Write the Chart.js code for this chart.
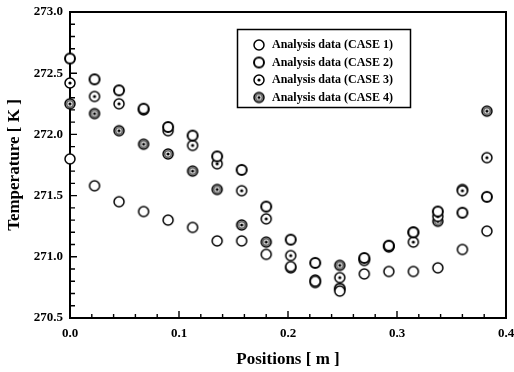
<!DOCTYPE html>
<html lang="en">
<head>
<meta charset="utf-8">
<title>Temperature vs position</title>
<script src="https://cdn.jsdelivr.net/npm/chart.js"></script>
<style>
  body{margin:0;background:#fff}
  canvas{display:block}
</style>
</head>
<body>
<canvas id="chart" width="514" height="372"></canvas>
<script>
const positions = [0, 0.0225, 0.045, 0.0675, 0.09, 0.1125, 0.135, 0.1575, 0.18, 0.2025, 0.225, 0.2475, 0.27, 0.2925, 0.315, 0.3375, 0.36, 0.3825];
const case1 = [271.80, 271.58, 271.45, 271.37, 271.30, 271.24, 271.13, 271.13, 271.02, 270.92, 270.80, 270.72, 270.86, 270.88, 270.88, 270.91, 271.06, 271.21];
const case2 = [272.62, 272.45, 272.36, 272.21, 272.06, 271.99, 271.82, 271.71, 271.41, 271.14, 270.95, 270.74, 270.99, 271.09, 271.20, 271.37, 271.36, 271.49];
const case3 = [272.42, 272.31, 272.25, 272.20, 272.03, 271.91, 271.76, 271.54, 271.31, 271.01, 270.81, 270.83, 270.97, 271.08, 271.12, 271.33, 271.54, 271.81];
const case4 = [272.25, 272.17, 272.03, 271.92, 271.84, 271.70, 271.55, 271.26, 271.12, 270.91, 270.79, 270.93, 270.98, 271.09, 271.20, 271.29, 271.55, 272.19];
const labels = ['Analysis data (CASE 1)', 'Analysis data (CASE 2)', 'Analysis data (CASE 3)', 'Analysis data (CASE 4)'];

const xMin = 0, xMax = 0.4, xStep = 0.1, xMinor = 0.02;
const yMin = 270.5, yMax = 273.0, yStep = 0.5, yMinor = 0.1;

const serif = '"Liberation Serif", "DejaVu Serif", serif';

// little canvases used as point styles
function marker(kind) {
  const c = document.createElement('canvas');
  c.width = c.height = 14;
  const g = c.getContext('2d');
  g.beginPath(); g.arc(7, 7, 5, 0, Math.PI * 2);
  g.fillStyle = '#fff'; g.fill();
  g.strokeStyle = '#000';
  g.lineWidth = kind === 2 ? 2 : 1.5;
  g.stroke();
  if (kind === 4) {
    g.beginPath(); g.arc(7, 7, 3.3, 0, Math.PI * 2);
    g.strokeStyle = '#666'; g.lineWidth = 1.6; g.stroke();
  }
  if (kind >= 3) {
    g.beginPath(); g.arc(7, 7, 1.6, 0, Math.PI * 2);
    g.fillStyle = '#000'; g.fill();
  }
  return c;
}
const markers = [marker(1), marker(2), marker(3), marker(4)];

const series = [case1, case2, case3, case4];
const datasets = series.map((vals, i) => ({
  label: labels[i],
  data: positions.map((p, j) => ({ x: p, y: vals[j] })),
  pointStyle: markers[i],
  pointRadius: 5,
  showLine: false,
  clip: false
}));

const frame = {
  id: 'frame',
  beforeDatasetsDraw(chart) {
    const { ctx, chartArea: a, scales: { x, y } } = chart;
    ctx.save();
    ctx.strokeStyle = '#000';
    ctx.lineWidth = 2;
    ctx.strokeRect(a.left, a.top, a.right - a.left, a.bottom - a.top);
    ctx.lineWidth = 1.4;
    ctx.beginPath();
    const nx = Math.round((xMax - xMin) / xMinor);
    for (let i = 0; i <= nx; i++) {
      const px = x.getPixelForValue(xMin + i * xMinor);
      const len = i % 5 ? 4 : 7;
      ctx.moveTo(px, a.bottom); ctx.lineTo(px, a.bottom - len);
    }
    const ny = Math.round((yMax - yMin) / yMinor);
    for (let i = 0; i <= ny; i++) {
      const py = y.getPixelForValue(yMin + i * yMinor);
      const len = i % 5 ? 5 : 7;
      ctx.moveTo(a.left, py); ctx.lineTo(a.left + len, py);
    }
    ctx.stroke();
    ctx.restore();
  },
  afterDraw(chart) {
    // boxed legend inside the plot
    const { ctx } = chart;
    ctx.save();
    ctx.strokeStyle = '#000';
    ctx.lineWidth = 1.5;
    ctx.strokeRect(237.5, 29.5, 173, 78);
    ctx.font = 'bold 12px ' + serif;
    ctx.fillStyle = '#000';
    ctx.textBaseline = 'middle';
    chart.data.datasets.forEach((ds, i) => {
      const yy = 45 + i * 17.5;
      ctx.drawImage(ds.pointStyle, 259 - 7, yy - 7);
      ctx.fillText(ds.label, 272, yy);
    });
    ctx.restore();
  }
};

new Chart(document.getElementById('chart'), {
  type: 'scatter',
  data: { datasets },
  options: {
    responsive: false,
    animation: false,
    layout: { padding: { left: 0, right: 8, top: 12, bottom: 0 }, autoPadding: false },
    plugins: { legend: { display: false }, tooltip: { enabled: false } },
    scales: {
      x: {
        type: 'linear', min: xMin, max: xMax,
        afterFit(s) { s.height = 54; s.paddingLeft = 0; s.paddingRight = 0; },
        grid: { display: false, drawTicks: false },
        border: { display: false },
        ticks: {
          stepSize: xStep, padding: 8, color: '#000',
          font: { family: serif, size: 13, weight: 'bold' },
          callback: v => v.toFixed(1)
        },
        title: {
          display: true, text: 'Positions [ m ]', color: '#000',
          font: { family: serif, size: 17, weight: 'bold' },
          padding: { top: 2, bottom: 2 }
        }
      },
      y: {
        min: yMin, max: yMax,
        afterFit(s) { s.width = 70; s.paddingTop = 0; s.paddingBottom = 0; },
        grid: { display: false, drawTicks: false },
        border: { display: false },
        ticks: {
          stepSize: yStep, padding: 7, color: '#000',
          font: { family: serif, size: 13, weight: 'bold' },
          callback: v => v.toFixed(1)
        },
        title: {
          display: true, text: 'Temperature [ K ]', color: '#000',
          font: { family: serif, size: 17, weight: 'bold' },
          padding: { top: 4, bottom: 4 }
        }
      }
    }
  },
  plugins: [frame]
});
</script>
</body>
</html>
